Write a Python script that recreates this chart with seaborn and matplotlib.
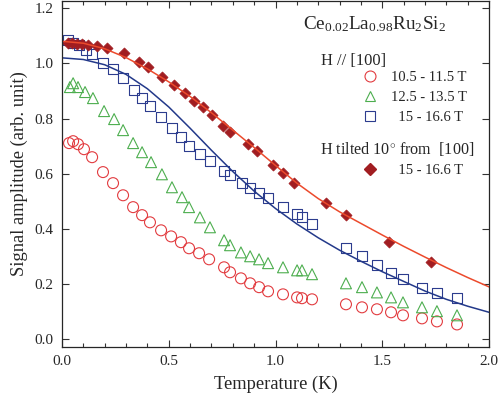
import numpy as np
import matplotlib
matplotlib.use("Agg")
import matplotlib.pyplot as plt
from matplotlib.lines import Line2D
from matplotlib.ticker import MultipleLocator
import seaborn as sns

# --- data ---------------------------------------------------------------
# H // [100], 10.5 - 11.5 T  (open circles)
t_circ = [0.033, 0.052, 0.075, 0.103, 0.141, 0.192, 0.239, 0.286, 0.333, 0.375,
          0.412, 0.464, 0.511, 0.557, 0.595, 0.642, 0.689, 0.759, 0.787, 0.838,
          0.881, 0.923, 0.965, 1.035, 1.101, 1.124, 1.171, 1.330, 1.405, 1.475,
          1.541, 1.597, 1.686, 1.756, 1.850]
a_circ = [0.711, 0.718, 0.707, 0.689, 0.660, 0.606, 0.566, 0.522, 0.479, 0.450,
          0.424, 0.395, 0.373, 0.352, 0.330, 0.312, 0.290, 0.261, 0.243, 0.221,
          0.203, 0.189, 0.174, 0.163, 0.152, 0.149, 0.145, 0.127, 0.116, 0.109,
          0.098, 0.087, 0.076, 0.065, 0.054]

# H // [100], 12.5 - 13.5 T  (open triangles)
t_tri = [0.037, 0.052, 0.075, 0.108, 0.145, 0.197, 0.244, 0.286, 0.333, 0.375,
         0.417, 0.468, 0.515, 0.562, 0.595, 0.646, 0.693, 0.759, 0.787, 0.838,
         0.881, 0.923, 0.965, 1.035, 1.101, 1.124, 1.171, 1.330, 1.405, 1.475,
         1.541, 1.597, 1.686, 1.756, 1.850]
a_tri = [0.914, 0.928, 0.914, 0.896, 0.874, 0.827, 0.798, 0.758, 0.711, 0.678,
         0.642, 0.598, 0.551, 0.515, 0.479, 0.442, 0.406, 0.359, 0.341, 0.315,
         0.301, 0.290, 0.276, 0.261, 0.250, 0.250, 0.236, 0.203, 0.189, 0.170,
         0.152, 0.134, 0.116, 0.102, 0.087]

# H // [100], 15 - 16.6 T  (open squares)
t_sq = [0.028, 0.052, 0.080, 0.112, 0.141, 0.192, 0.239, 0.286, 0.337, 0.375,
        0.412, 0.464, 0.515, 0.557, 0.595, 0.646, 0.693, 0.759, 0.787, 0.843,
        0.881, 0.923, 0.965, 1.035, 1.101, 1.124, 1.171, 1.330, 1.405, 1.475,
        1.541, 1.597, 1.686, 1.756, 1.850]
a_sq = [1.084, 1.073, 1.066, 1.048, 1.033, 1.001, 0.979, 0.946, 0.903, 0.874,
        0.845, 0.805, 0.765, 0.732, 0.700, 0.671, 0.645, 0.609, 0.595, 0.566,
        0.547, 0.529, 0.511, 0.479, 0.453, 0.442, 0.417, 0.330, 0.301, 0.268,
        0.239, 0.218, 0.185, 0.167, 0.149]

# H tilted 10 deg from [100], 15 - 16.6 T  (filled diamonds)
t_dia = [0.028, 0.047, 0.070, 0.094, 0.122, 0.164, 0.211, 0.290, 0.361, 0.403,
         0.468, 0.525, 0.576, 0.618, 0.660, 0.703, 0.754, 0.787, 0.871, 0.913,
         0.988, 1.035, 1.087, 1.237, 1.330, 1.532, 1.728]
a_dia = [1.073, 1.073, 1.070, 1.070, 1.066, 1.062, 1.055, 1.037, 1.004, 0.986,
         0.950, 0.921, 0.892, 0.863, 0.841, 0.812, 0.772, 0.751, 0.707, 0.682,
         0.631, 0.602, 0.566, 0.493, 0.450, 0.352, 0.279]

# fit curves (read every 0.1 K)
t_fit = [0.0, 0.1, 0.2, 0.3, 0.4, 0.5, 0.6, 0.7, 0.8, 0.9, 1.0,
         1.1, 1.2, 1.3, 1.4, 1.5, 1.6, 1.7, 1.8, 1.9, 2.0]
fit_red = [1.080, 1.073, 1.053, 1.021, 0.980, 0.933, 0.880, 0.821, 0.758, 0.695, 0.630,
           0.566, 0.510, 0.462, 0.420, 0.378, 0.337, 0.298, 0.260, 0.224, 0.190]
fit_blue = [1.020, 1.014, 0.995, 0.960, 0.908, 0.842, 0.765, 0.685, 0.608, 0.537, 0.474,
            0.418, 0.368, 0.323, 0.283, 0.245, 0.210, 0.175, 0.145, 0.120, 0.098]

c_circ = '#e23b3f'
c_tri = '#4dae4f'
c_sq = '#2c3c8e'
c_dia = '#a11d21'
c_lred = '#ec4a2c'
c_lblue = '#23398a'

sns.set_style("ticks")
plt.rcParams['font.family'] = ['Liberation Serif', 'DejaVu Serif']
plt.rcParams['mathtext.fontset'] = 'custom'
plt.rcParams['mathtext.rm'] = 'Liberation Serif'
plt.rcParams['mathtext.it'] = 'Liberation Serif:italic'

fig = plt.figure(figsize=(4.98, 3.98), dpi=100)
ax = fig.add_axes([0.1245, 0.128, 0.8575, 0.8695])

sns.scatterplot(x=t_circ, y=a_circ, marker='o', s=62, color=c_circ,
                facecolor='none', edgecolor=c_circ, linewidth=0.8, ax=ax)
sns.scatterplot(x=t_tri, y=a_tri, marker='^', s=62, color=c_tri,
                facecolor='none', edgecolor=c_tri, linewidth=0.8, ax=ax)
sns.scatterplot(x=t_sq, y=a_sq, marker='s', s=52, color=c_sq,
                facecolor='none', edgecolor=c_sq, linewidth=0.8, ax=ax)
sns.scatterplot(x=t_dia, y=a_dia, marker='D', s=32, color=c_dia,
                edgecolor=c_dia, linewidth=0.5, ax=ax)

sns.lineplot(x=t_fit, y=fit_red, color=c_lred, lw=1.1, ax=ax)
sns.lineplot(x=t_fit, y=fit_blue, color=c_lblue, lw=1.1, ax=ax)

ax.set_xlim(0, 2.0)
ax.set_ylim(-0.028, 1.226)
ax.xaxis.set_major_locator(MultipleLocator(0.5))
ax.xaxis.set_minor_locator(MultipleLocator(0.1))
ax.yaxis.set_major_locator(MultipleLocator(0.2))
ax.xaxis.set_major_formatter(matplotlib.ticker.FormatStrFormatter('%.1f'))
ax.yaxis.set_major_formatter(matplotlib.ticker.FormatStrFormatter('%.1f'))
ax.tick_params(which='both', direction='in', top=True, right=True,
               labelsize=11, color='#333333', width=0.8)
ax.tick_params(which='major', length=5, pad=6)
ax.tick_params(which='minor', length=3)
for s in ax.spines.values():
    s.set_linewidth(0.9)

ax.set_xlabel('Temperature (K)', fontsize=13.3, labelpad=5)
ax.set_ylabel('Signal amplitude (arb. unit)', fontsize=13.3, labelpad=5)

# annotations / legend
ax.text(0.731, 0.934, r'Ce$_{0.02}$La$_{0.98}$Ru$_2$Si$_2$', transform=ax.transAxes,
        ha='center', va='center', fontsize=13.8)
ax.text(0.607, 0.828, 'H // [100]', transform=ax.transAxes,
        ha='left', va='center', fontsize=11.9)
ax.text(0.604, 0.571, r'H tilted 10$^{\circ}$ from  [100]', transform=ax.transAxes,
        ha='left', va='center', fontsize=11.6)

h1 = [Line2D([], [], ls='none', marker='o', ms=7.9, mfc='none', mec=c_circ, mew=0.8),
      Line2D([], [], ls='none', marker='^', ms=7.9, mfc='none', mec=c_tri, mew=0.8),
      Line2D([], [], ls='none', marker='s', ms=7.2, mfc='none', mec=c_sq, mew=0.8)]
l1 = ['10.5 - 11.5 T', '12.5 - 13.5 T', '\u200715 - 16.6 T']
leg1 = ax.legend(h1, l1, loc='upper left', bbox_to_anchor=(0.693, 0.797),
                 frameon=False, fontsize=10.5, handlelength=1.6, handletextpad=0.7,
                 borderpad=0, borderaxespad=0, labelspacing=0.45)
ax.add_artist(leg1)
h2 = [Line2D([], [], ls='none', marker='D', ms=5.7, mfc=c_dia, mec=c_dia)]
ax.legend(h2, ['\u200715 - 16.6 T'], loc='upper left', bbox_to_anchor=(0.693, 0.530),
          frameon=False, fontsize=10.5, handlelength=1.6, handletextpad=0.7,
          borderpad=0, borderaxespad=0)

plt.savefig('out.png', dpi=100)
